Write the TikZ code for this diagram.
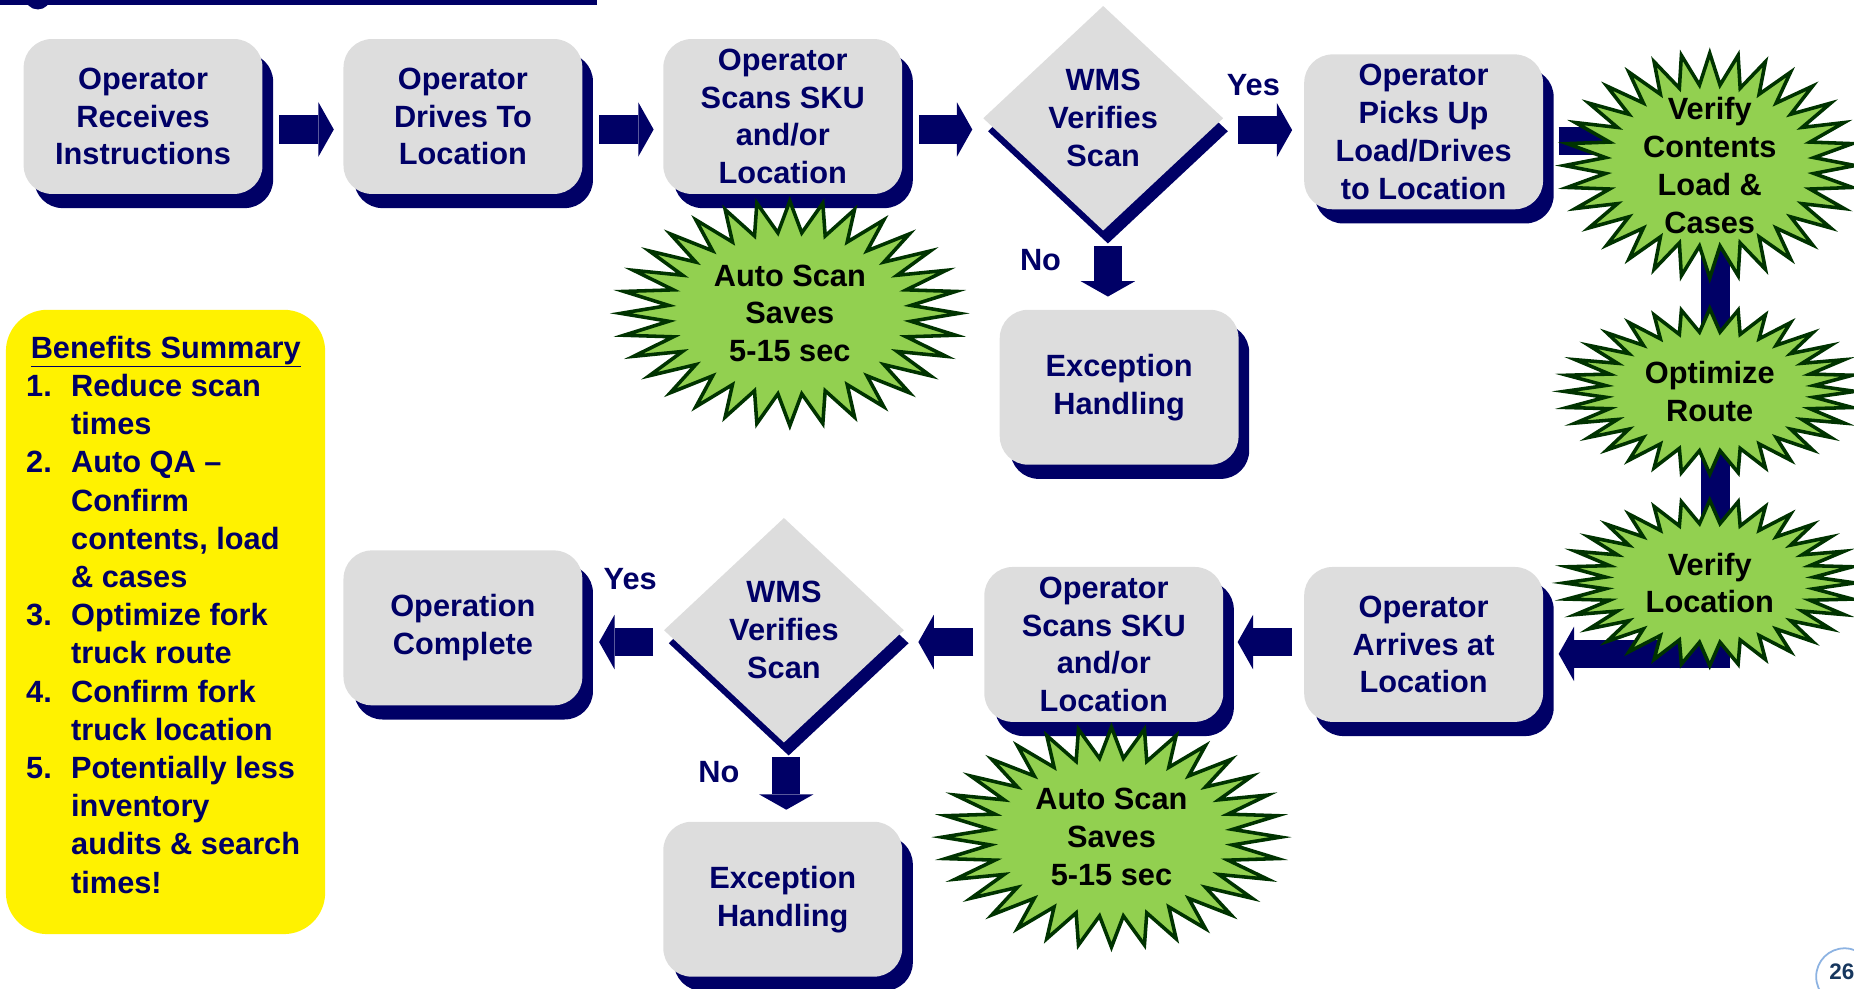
\documentclass[tikz,border=0pt]{standalone}
\usepackage{fontspec}
\setmainfont{Liberation Sans}
\usetikzlibrary{shapes.geometric,arrows.meta,shadows,backgrounds,calc}
\definecolor{navy}{HTML}{000066}
\definecolor{boxgray}{HTML}{DDDDDD}
\definecolor{stargreen}{HTML}{92D050}
\definecolor{stardark}{HTML}{003300}
\definecolor{pgnum}{HTML}{17375E}
\definecolor{pgring}{HTML}{8DB3E2}
\tikzset{
  every node/.style={font=\bfseries\fontsize{26}{32}\selectfont},
  procbox/.style={fill=boxgray, rounded corners=24pt, minimum width=202pt, minimum height=131pt,
    inner sep=0pt, align=center, text=navy,
    drop shadow={shadow xshift=9pt, shadow yshift=-12pt, fill=navy, opacity=1}},
  decision/.style={diamond, fill=boxgray, minimum width=203pt, minimum height=190pt,
    inner sep=0pt, align=center, text=navy,
    drop shadow={shadow xshift=4pt, shadow yshift=-11pt, fill=navy, opacity=1}},
  startext/.style={align=center, text=black, inner sep=0pt},
  burststyle/.style={fill=stargreen, draw=stardark, line width=3pt, line join=miter},
  lbl/.style={text=navy, inner sep=0pt},
  blockarrow/.style={draw=navy, line width=24pt, line join=miter,
    -{Triangle[length=13pt, width=46pt, line width=0pt]}},
  bar/.style={draw=navy, line width=24pt, line join=miter},
}
% #1 name, #2 centre, #3 x radius, #4 y radius, #5 text
\newcommand\burst[5]{%
  \begin{scope}[shift={#2}]
    \path[burststyle] plot[samples at={0,...,63}, variable=\k]
      ({#3*(1-0.28*mod(\k,2))*cos(\k*5.625)},{#4*(1-0.28*mod(\k,2))*sin(\k*5.625)}) -- cycle;
  \end{scope}
  \node[startext] (#1) at #2 {#5};
}
\begin{document}
\begin{tikzpicture}[x=1pt, y=-1pt]
\useasboundingbox (0,0) rectangle (1568,836);

% top rule
\fill[navy] (0,0) rectangle (505,4);
\fill[navy] (32,-3) circle[radius=11pt];

% benefits panel
\fill[yellow, rounded corners=35pt] (5,262) rectangle (275,790);
\node[lbl, anchor=north west, align=left, font=\bfseries\fontsize{26}{32.3}\selectfont] (ben) at (22,284) {%
\makebox[236pt][c]{\underline{Benefits Summary}}\\
\makebox[38pt][l]{1.}Reduce scan\\
\hspace*{38pt}times\\
\makebox[38pt][l]{2.}Auto QA --\\
\hspace*{38pt}Confirm\\
\hspace*{38pt}contents, load\\
\hspace*{38pt}\& cases\\
\makebox[38pt][l]{3.}Optimize fork\\
\hspace*{38pt}truck route\\
\makebox[38pt][l]{4.}Confirm fork\\
\hspace*{38pt}truck location\\
\makebox[38pt][l]{5.}Potentially less\\
\hspace*{38pt}inventory\\
\hspace*{38pt}audits \& search\\
\hspace*{38pt}times!};

% row 1
\node[procbox] (b1) at (121,98.5) {Operator\\Receives\\Instructions};
\node[procbox] (b2) at (391.5,98.5) {Operator\\Drives To\\Location};
\node[procbox] (b3) at (662,98.5) {Operator\\Scans SKU\\and/or\\Location};
\node[decision] (d1) at (933,100) {WMS\\Verifies\\Scan};
\node[procbox] (b4) at (1204,111.5) {Operator\\Picks Up\\Load/Drives\\to Location};
\node[procbox] (e1) at (946.5,327.5) {Exception\\Handling};

% row 2
\node[procbox] (b5) at (1204,545) {Operator\\Arrives at\\Location};
\node[procbox] (b6) at (933.5,545) {Operator\\Scans SKU\\and/or\\Location};
\node[decision] (d2) at (663,533) {WMS\\Verifies\\Scan};
\node[procbox] (b7) at (391.5,531) {Operation\\Complete};
\node[procbox] (e2) at (662,760.5) {Exception\\Handling};

% starbursts
\burst{s0}{(668,265)}{143}{95}{Auto Scan\\Saves\\5-15 sec}
\burst{s1}{(1446,140)}{123}{95}{Verify\\Contents\\Load \&\\Cases}
\burst{s2}{(1446,331)}{123}{70}{Optimize\\Route}
\burst{s3}{(1446,493)}{123}{70}{Verify\\Location}
\burst{s4}{(940,708)}{143}{93}{Auto Scan\\Saves\\5-15 sec}

% labels
\node[lbl] (y1) at (1060,72) {Yes};
\node[lbl] (n1) at (880,220) {No};
\node[lbl] (y2) at (533,490) {Yes};
\node[lbl] (n2) at (608,653) {No};

% page number
\draw[pgring, line width=1.5pt] (1560,826) circle[radius=24pt];
\node[text=pgnum, inner sep=0pt, anchor=west, font=\bfseries\fontsize{19}{22}\selectfont] (pg) at (1547,822) {26};

% connectors
\begin{pgfonlayer}{background}
\draw[blockarrow] ($(b1.east)+(14,11)$) -- ($(b2.west)+(-8,11)$);
\draw[blockarrow] ($(b2.east)+(14,11)$) -- ($(b3.west)+(-8,11)$);
\draw[blockarrow] ($(b3.east)+(14,11)$) -- ($(b3.east -| d1.west)+(-9,11)$);
\draw[blockarrow] ($(d1.east)+(12,10)$) -- ($(d1.east -| b4.west)+(-10,10)$);
\draw[blockarrow] ($(d1.south)+(4,13)$) -- ($(d1.south |- e1.north)+(4,-11)$);
\draw[bar] ($(b4.east)+(13,8)$) -- ($(b4.east -| s1)+(5,8)$);
\draw[blockarrow] ($(s1)+(5,0)$) -- ($(s1 |- b5.east)+(5,8)$) -- ($(b5.east)+(13,8)$);
\draw[blockarrow] ($(b5.west)+(-10,-2)$) -- ($(b6.east)+(12,-2)$);
\draw[blockarrow] ($(b6.west)+(-9,-2)$) -- ($(b6.west -| d2.east)+(12,-2)$);
\draw[blockarrow] ($(d2.west)+(-9,10)$) -- ($(d2.west -| b7.east)+(14,10)$);
\draw[blockarrow] ($(d2.south)+(2,12)$) -- ($(d2.south |- e2.north)+(2,-10)$);
\end{pgfonlayer}
\end{tikzpicture}
\end{document}
